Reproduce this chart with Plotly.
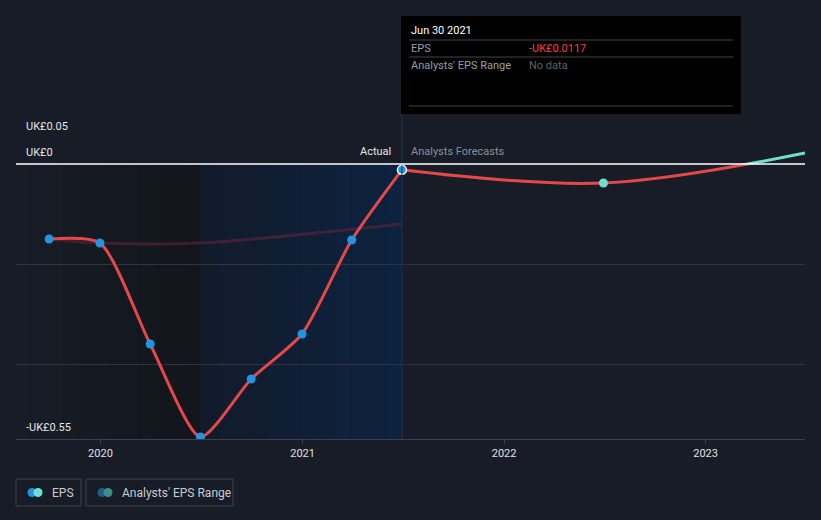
import pandas as pd
import plotly.graph_objects as go

# EPS history (actual) and analyst forecasts, in GBP
actual_dates = ["2019-09-30", "2019-12-31", "2020-03-31", "2020-06-30",
                "2020-09-30", "2020-12-31", "2021-03-31", "2021-06-30"]
actual_eps = [-0.150, -0.158, -0.360, -0.546, -0.430, -0.340, -0.152, -0.0117]

forecast_dates = ["2021-06-30", "2022-06-30", "2023-06-30"]
forecast_eps = [-0.0117, -0.038, 0.022]

# past consensus estimate line (faint)
estimate_dates = ["2019-09-30", "2019-12-31", "2020-06-30", "2021-06-30"]
estimate_eps = [-0.150, -0.158, -0.158, -0.120]

y_tick_vals = [0.05, 0.0, -0.55]
y_tick_text = ["UK£0.05", "UK£0", "-UK£0.55"]
grid_vals = [0.05, -0.2, -0.4]

BG = "#171c26"
RED = "#e54848"
BLUE = "#2394df"
TEAL = "#6de0d0"

W, H = 821, 520
L, R, T, B = 16, 16, 139, 81
Y_MIN, Y_MAX = -0.55, 0.05
zero_frac = (0 - Y_MIN) / (Y_MAX - Y_MIN)


def px(x):
    return (x - L) / (W - L - R)


def py(y):
    return (H - B - y) / (H - T - B)


def mix(c0, c1, t):
    a = [int(c0[i:i + 2], 16) for i in (1, 3, 5)]
    b = [int(c1[i:i + 2], 16) for i in (1, 3, 5)]
    return "rgb(%d,%d,%d)" % tuple(round(a[k] + (b[k] - a[k]) * t) for k in range(3))


fig = go.Figure()

fig.add_trace(go.Scatter(
    x=estimate_dates, y=estimate_eps, mode="lines",
    line=dict(color="rgba(120,40,60,0.45)", width=3, shape="spline", smoothing=0.8),
    hoverinfo="skip", showlegend=False))

# forecast in red (below zero)
fig.add_trace(go.Scatter(
    x=forecast_dates, y=forecast_eps, mode="lines",
    line=dict(color=RED, width=3, shape="spline"),
    showlegend=False))

# same forecast on a clipped axis above zero -> teal segment
fig.add_trace(go.Scatter(
    x=forecast_dates, y=forecast_eps, mode="lines",
    line=dict(color=TEAL, width=3, shape="spline"),
    xaxis="x", yaxis="y2", showlegend=False))

fig.add_trace(go.Scatter(
    x=actual_dates, y=actual_eps, mode="lines+markers",
    line=dict(color=RED, width=3, shape="spline", smoothing=0.65),
    marker=dict(color=BLUE, size=9,
                line=dict(color=["rgba(0,0,0,0)"] * 7 + ["white"], width=1.5)),
    showlegend=False))

fig.add_trace(go.Scatter(
    x=forecast_dates[1:], y=forecast_eps[1:], mode="markers",
    marker=dict(color=TEAL, size=9),
    showlegend=False))

shapes = []
# shaded past periods, drawn as gradient strips
n = 12
for start, end, c0, c1 in (("2019-08-01", "2020-06-30", "#171c26", "#12151b"),
                           ("2020-06-30", "2021-06-30", "#121b2b", "#0c2240")):
    edges = pd.date_range(start, end, periods=n + 1)
    for i in range(n):
        shapes.append(dict(type="rect", xref="x", yref="paper",
                           x0=edges[i], x1=edges[i + 1], y0=0, y1=1,
                           fillcolor=mix(c0, c1, (i + 0.5) / n), line_width=0,
                           layer="below"))

shapes += [
    dict(type="line", xref="x", yref="paper", x0="2021-06-30", x1="2021-06-30",
         y0=0, y1=py(114), line=dict(color="#1f3350", width=1)),
    dict(type="line", xref="paper", yref="y", x0=0, x1=1, y0=0, y1=0,
         line=dict(color="white", width=1.5)),
    # tooltip
    dict(type="rect", xref="paper", yref="paper", x0=px(401), x1=px(741),
         y0=py(114), y1=py(16), fillcolor="black", line_width=0),
]
for yy in (40, 57, 106):
    shapes.append(dict(type="line", xref="paper", yref="paper", x0=px(409), x1=px(733),
                       y0=py(yy), y1=py(yy), line=dict(color="#444444", width=1)))

# legend boxes
for x0, x1 in ((16, 81), (86, 233)):
    shapes.append(dict(type="rect", xref="paper", yref="paper", x0=px(x0), x1=px(x1),
                       y0=py(506), y1=py(479), line=dict(color="#3c414c", width=1),
                       fillcolor="rgba(0,0,0,0)"))
for cx, col in ((32, BLUE), (38, TEAL), (102, "#1f5c86"), (108, "#3e8c85")):
    shapes.append(dict(type="circle", xref="paper", yref="paper",
                       x0=px(cx - 4.5), x1=px(cx + 4.5), y0=py(497), y1=py(488),
                       fillcolor=col, line_width=0))

annotations = []
label_px = {0.05: 127, 0.0: 152, -0.55: 427}
for v, t in zip(y_tick_vals, y_tick_text):
    annotations.append(dict(x=px(24), y=py(label_px[v]), xref="paper", yref="paper",
                            text=t, showarrow=False, xanchor="left", yanchor="middle",
                            font=dict(color="#e6e6e6", size=11)))

annotations += [
    dict(x=px(393), y=py(151), xref="paper", yref="paper", text="Actual",
         showarrow=False, xanchor="right", yanchor="middle",
         font=dict(color="#e6e6e6", size=11)),
    dict(x=px(409), y=py(151), xref="paper", yref="paper", text="Analysts Forecasts",
         showarrow=False, xanchor="left", yanchor="middle",
         font=dict(color="#8a8f98", size=11)),
    dict(x=px(409), y=py(31), xref="paper", yref="paper", text="Jun 30 2021",
         showarrow=False, xanchor="left", yanchor="middle",
         font=dict(color="white", size=11)),
    dict(x=px(409), y=py(48), xref="paper", yref="paper", text="EPS",
         showarrow=False, xanchor="left", yanchor="middle",
         font=dict(color="#9a9ea6", size=11)),
    dict(x=px(527), y=py(48), xref="paper", yref="paper", text="-UK£0.0117",
         showarrow=False, xanchor="left", yanchor="middle",
         font=dict(color="#ff3b3b", size=11)),
    dict(x=px(409), y=py(65), xref="paper", yref="paper", text="Analysts' EPS Range",
         showarrow=False, xanchor="left", yanchor="middle",
         font=dict(color="#9a9ea6", size=11)),
    dict(x=px(527), y=py(65), xref="paper", yref="paper", text="No data",
         showarrow=False, xanchor="left", yanchor="middle",
         font=dict(color="#5e626a", size=11)),
    dict(x=px(50), y=py(493), xref="paper", yref="paper", text="EPS",
         showarrow=False, xanchor="left", yanchor="middle",
         font=dict(color="#c8ccd2", size=12)),
    dict(x=px(120), y=py(493), xref="paper", yref="paper", text="Analysts' EPS Range",
         showarrow=False, xanchor="left", yanchor="middle",
         font=dict(color="#c8ccd2", size=12)),
]

fig.update_layout(
    width=W, height=H,
    margin=dict(l=L, r=R, t=T, b=B),
    paper_bgcolor=BG, plot_bgcolor=BG,
    font=dict(family="Roboto", color="#d0d0d0", size=11),
    showlegend=False,
    shapes=shapes,
    annotations=annotations,
    xaxis=dict(range=["2019-08-01", "2023-06-30"], type="date",
               tickvals=["2020-01-01", "2021-01-01", "2022-01-01", "2023-01-01"],
               ticktext=["2020", "2021", "2022", "2023"],
               showgrid=False, zeroline=False, showline=True, linecolor="#3c414c",
               ticks="outside", ticklen=4, tickcolor="#3c414c",
               tickfont=dict(color="#e0e0e0", size=11)),
    yaxis=dict(range=[Y_MIN, Y_MAX], tickvals=grid_vals, showticklabels=False,
               gridcolor="#2f343e", gridwidth=1, zeroline=False, fixedrange=True),
    yaxis2=dict(domain=[zero_frac, 1], range=[0, Y_MAX], anchor="x",
                showgrid=False, showticklabels=False, zeroline=False),
)

fig.write_html("out.html", config={"displayModeBar": False},
               post_script="document.body.style.margin='0px';")
